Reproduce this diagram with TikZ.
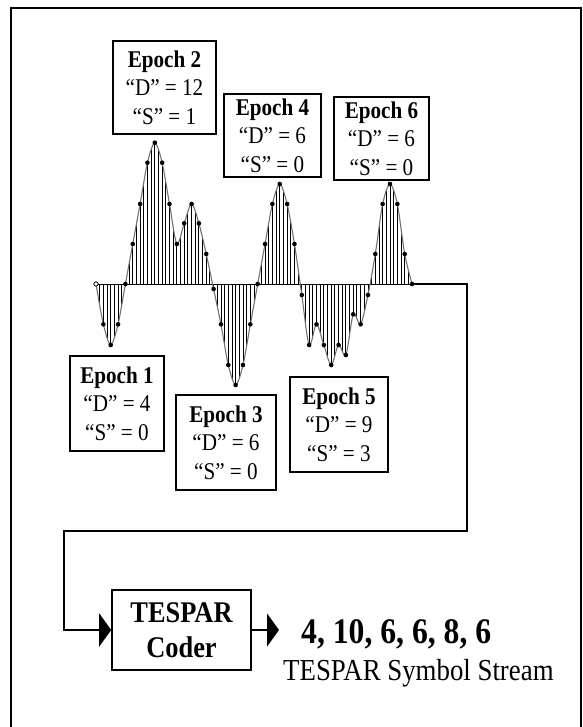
\documentclass[tikz,border=0pt]{standalone}
\usepackage{fontspec}
\setmainfont{Liberation Serif}[FakeStretch=0.88]
\usetikzlibrary{arrows.meta}
\begin{document}
\begin{tikzpicture}[x=1pt,y=-1pt,
  epochbox/.style={draw, line width=1.6pt, inner sep=0pt, align=center, font=\fontsize{24}{28.5}\selectfont},
  coderbox/.style={draw, line width=1.6pt, inner sep=0pt, align=center, font=\bfseries\fontsize{30}{35}\selectfont},
  conn/.style={line width=1.8pt, -{Triangle[length=12pt,width=33pt]}},
  hatch/.style={line width=0.9pt},
  wave/.style={draw=black!55, line width=1.1pt},
  framebox/.style={line width=2.2pt},
  txt/.style={anchor=base west, inner sep=0pt}
]
\useasboundingbox (0,0) rectangle (582,727);
% frame
\draw[framebox] (11,727) -- (11,8) -- (581,8) -- (581,727);
% hatching between curve and baseline
\begin{scope}
\clip plot[smooth, tension=0.5] coordinates {(96,284) (103.35,324.3) (110.7,345) (118.05,324.3) (125.4,284) (132.75,244) (140.1,204) (147.45,162.7) (154.8,142.7) (162.15,162.7) (169.5,204) (176.85,244) (184.2,223.3) (191.55,204) (198.9,223.3) (206.25,254) (213.6,289) (220.95,324.3) (228.3,365) (235.65,385) (243,365) (250.35,324.3) (257.7,284) (265.05,244) (272.4,204) (279.75,184) (287.1,204) (294.45,244) (301.8,295) (309.15,345) (316.5,324.3) (323.85,345) (331.2,365) (338.55,345) (345.9,355) (353.25,314.3) (360.6,324.3) (367.95,295) (375.3,254) (382.65,204) (390,184) (397.35,204) (404.7,254) (412.05,284)} -- cycle;
\foreach \k in {0,...,86} \draw[hatch] ({96+3.675*\k},100) -- ({96+3.675*\k},420);
\end{scope}
% baseline
\draw[line width=1pt] (96,284) -- (412.05,284);
% waveform
\draw[wave] plot[smooth, tension=0.5] coordinates {(96,284) (103.35,324.3) (110.7,345) (118.05,324.3) (125.4,284) (132.75,244) (140.1,204) (147.45,162.7) (154.8,142.7) (162.15,162.7) (169.5,204) (176.85,244) (184.2,223.3) (191.55,204) (198.9,223.3) (206.25,254) (213.6,289) (220.95,324.3) (228.3,365) (235.65,385) (243,365) (250.35,324.3) (257.7,284) (265.05,244) (272.4,204) (279.75,184) (287.1,204) (294.45,244) (301.8,295) (309.15,345) (316.5,324.3) (323.85,345) (331.2,365) (338.55,345) (345.9,355) (353.25,314.3) (360.6,324.3) (367.95,295) (375.3,254) (382.65,204) (390,184) (397.35,204) (404.7,254) (412.05,284)};
% sample dots
\foreach \x/\y in {103.35/324.3, 110.7/345, 118.05/324.3, 125.4/284, 132.75/244, 140.1/204, 147.45/162.7, 154.8/142.7, 162.15/162.7, 169.5/204, 176.85/244, 184.2/223.3, 191.55/204, 198.9/223.3, 206.25/254, 213.6/289, 220.95/324.3, 228.3/365, 235.65/385, 243/365, 250.35/324.3, 257.7/284, 265.05/244, 272.4/204, 279.75/184, 287.1/204, 294.45/244, 301.8/295, 309.15/345, 316.5/324.3, 323.85/345, 331.2/365, 338.55/345, 345.9/355, 353.25/314.3, 360.6/324.3, 367.95/295, 375.3/254, 382.65/204, 390/184, 397.35/204, 404.7/254, 412.05/284}
  \fill (\x,\y) circle (2.3pt);
\draw[fill=white, line width=0.8pt] (96,284) circle (2.2pt);
% epoch boxes
\node[epochbox, minimum width=103pt, minimum height=93pt] (ep2) at (164.5,87.5) {\textbf{Epoch 2}\\“D” = 12\\“S” = 1};
\node[epochbox, minimum width=97pt, minimum height=83pt] (ep4) at (272.5,135.5) {\textbf{Epoch 4}\\“D” = 6\\“S” = 0};
\node[epochbox, minimum width=95pt, minimum height=83pt] (ep6) at (381.5,138.5) {\textbf{Epoch 6}\\“D” = 6\\“S” = 0};
\node[epochbox, minimum width=94pt, minimum height=95pt] (ep1) at (117,403.5) {\textbf{Epoch 1}\\“D” = 4\\“S” = 0};
\node[epochbox, minimum width=100pt, minimum height=95pt] (ep3) at (226,442.5) {\textbf{Epoch 3}\\“D” = 6\\“S” = 0};
\node[epochbox, minimum width=98pt, minimum height=95pt] (ep5) at (339,424.5) {\textbf{Epoch 5}\\“D” = 9\\“S” = 3};
% coder
\node[coderbox, minimum width=139pt, minimum height=80pt] (coder) at (181.5,630) {TESPAR\\Coder};
\coordinate (wend) at (412.05,284);
\coordinate (outtip) at (279,630);
\draw[conn] (wend) -- (467,284) |- (64,531) |- (coder.west);
\draw[conn] (coder.east) -- (outtip);
% output text
\node[txt, font=\bfseries\fontsize{36}{40}\selectfont] (symbols) at (301,643) {4, 10, 6, 6, 8, 6};
\node[txt, font=\fontsize{30.5}{36}\selectfont] (streamlbl) at (283,680) {TESPAR Symbol Stream};
\end{tikzpicture}
\end{document}
